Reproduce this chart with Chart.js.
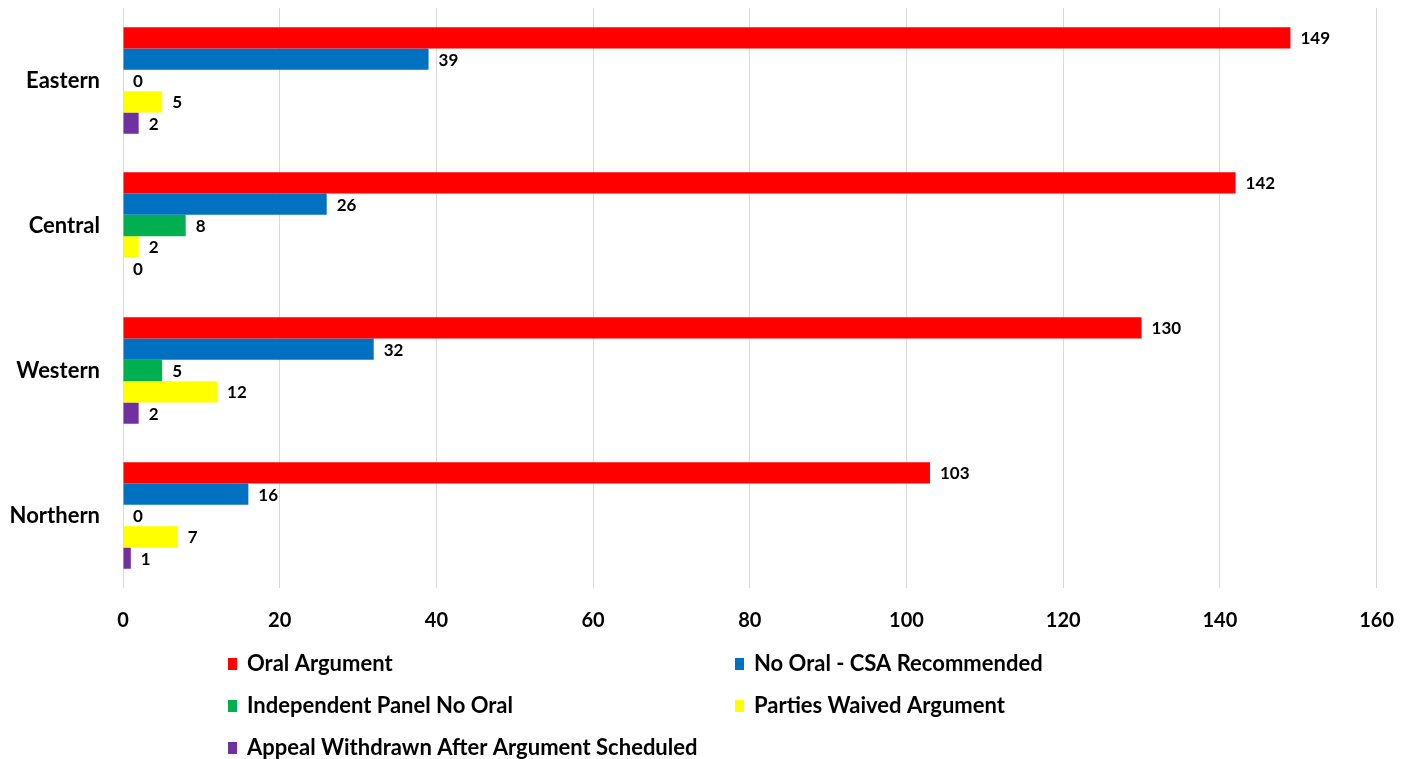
<!DOCTYPE html>
<html lang="en">
<head>
<meta charset="UTF-8">
<title>Appeals by Region</title>
<script src="https://cdn.jsdelivr.net/npm/chart.js"></script>
<style>
  html, body { margin: 0; padding: 0; background: #fff; }
  #wrap { width: 1415px; height: 759px; position: relative; }
</style>
</head>
<body>
<div id="wrap"><canvas id="grafico"></canvas></div>
<script>
// datos
const regiones = ['Eastern', 'Central', 'Western', 'Northern'];
const oralArgument = [149, 142, 130, 103];
const noOralCSA = [39, 26, 32, 16];
const independentPanel = [0, 8, 5, 0];
const partiesWaived = [5, 2, 12, 7];
const appealWithdrawn = [2, 0, 2, 1];
const xTicks = [0, 20, 40, 60, 80, 100, 120, 140, 160];

const fuente = 'Lato, "Open Sans", sans-serif';

// etiquetas de valor al final de cada barra
const etiquetas = {
  id: 'etiquetas',
  afterDatasetsDraw(chart) {
    const ctx = chart.ctx;
    ctx.save();
    ctx.font = 'bold 17px ' + fuente;
    ctx.fillStyle = '#000';
    ctx.textBaseline = 'middle';
    ctx.textAlign = 'left';
    chart.data.datasets.forEach((ds, i) => {
      chart.getDatasetMeta(i).data.forEach((bar, j) => {
        ctx.fillText(ds.data[j], bar.x + 10, bar.y + 1);
      });
    });
    ctx.restore();
  }
};

// leyenda en dos columnas abajo
const leyenda = {
  id: 'leyenda',
  afterDraw(chart) {
    const ctx = chart.ctx;
    const cols = [228, 735];
    const filas = [663, 705, 747];
    ctx.save();
    ctx.font = 'bold 22px ' + fuente;
    ctx.textBaseline = 'middle';
    ctx.textAlign = 'left';
    chart.data.datasets.forEach((ds, i) => {
      const x = cols[i % 2];
      const y = filas[Math.floor(i / 2)];
      ctx.fillStyle = ds.backgroundColor;
      ctx.fillRect(x, y - 5, 9, 12);
      ctx.fillStyle = '#000';
      ctx.fillText(ds.label, x + 19, y + 1);
    });
    ctx.restore();
  }
};

new Chart(document.getElementById('grafico'), {
  type: 'bar',
  data: {
    labels: regiones,
    datasets: [
      { label: 'Oral Argument', data: oralArgument, backgroundColor: '#FF0000' },
      { label: 'No Oral - CSA Recommended', data: noOralCSA, backgroundColor: '#0070C0' },
      { label: 'Independent Panel No Oral', data: independentPanel, backgroundColor: '#00B050' },
      { label: 'Parties Waived Argument', data: partiesWaived, backgroundColor: '#FFFF00' },
      { label: 'Appeal Withdrawn After Argument Scheduled', data: appealWithdrawn, backgroundColor: '#7030A0' }
    ]
  },
  options: {
    indexAxis: 'y',
    responsive: true,
    maintainAspectRatio: false,
    animation: false,
    datasets: { bar: { categoryPercentage: 0.735, barPercentage: 1.0 } },
    layout: { padding: { top: 8, right: 17, bottom: 105, left: 8 } },
    plugins: { legend: { display: false }, tooltip: { enabled: false } },
    scales: {
      x: {
        min: 0, max: 160,
        afterBuildTicks(axis) { axis.ticks = xTicks.map(v => ({ value: v })); },
        grid: { color: '#d9d9d9', lineWidth: 1, drawTicks: false },
        border: { display: false },
        ticks: { color: '#000', padding: 21, font: { family: fuente, size: 20, weight: 'bold' } }
      },
      y: {
        afterFit(axis) { axis.paddingTop = 0; axis.paddingBottom = 0; axis.width = 115; },
        grid: { display: false, drawTicks: false },
        border: { display: false },
        ticks: { color: '#000', padding: 23, font: { family: fuente, size: 22, weight: 'bold' } }
      }
    }
  },
  plugins: [etiquetas, leyenda]
});
</script>
</body>
</html>
